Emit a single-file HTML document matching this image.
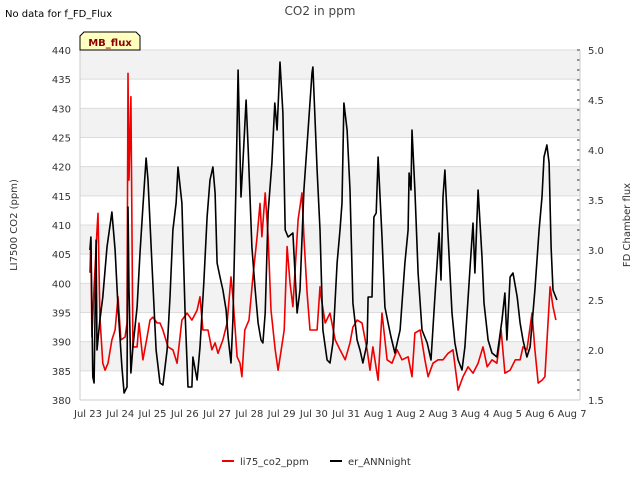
<!DOCTYPE html>
<html><head><meta charset="utf-8"><style>
body{margin:0;background:#fff;}
svg{font-family:"DejaVu Sans","Liberation Sans",sans-serif;}
</style></head><body>
<svg id="chart" width="640" height="480" xmlns="http://www.w3.org/2000/svg">
<text x="5" y="17" font-size="10" fill="#000">No data for f_FD_Flux</text>
<text x="320" y="15" font-size="12" fill="#444" text-anchor="middle">CO2 in ppm</text>
<g id="bands"></g>
<g id="grid"></g>
<g id="series"></g>
<g id="axes"></g>
<g>
<path d="M80,50 L80,36 L84,32 L136,32 L140,36 L140,50 Z" fill="#ffffc0" stroke="#000" stroke-width="1"/>
<text x="110" y="46" font-size="10" font-weight="bold" fill="#8b0000" text-anchor="middle">MB_flux</text>
</g>
<text transform="translate(17,225) rotate(-90)" font-size="10" fill="#333" text-anchor="middle">LI7500 CO2 (ppm)</text>
<text transform="translate(630,225) rotate(-90)" font-size="10" fill="#333" text-anchor="middle">FD Chamber flux</text>
<g>
<line x1="222" y1="461" x2="234" y2="461" stroke="#e00" stroke-width="2"/>
<text x="240" y="465" font-size="10" fill="#333">li75_co2_ppm</text>
<line x1="330" y1="461" x2="342" y2="461" stroke="#000" stroke-width="2"/>
<text x="348" y="465" font-size="10" fill="#333">er_ANNnight</text>
</g>
</svg>
<script>
const xTickLabels=["Jul 23","Jul 24","Jul 25","Jul 26","Jul 27","Jul 28","Jul 29","Jul 30","Jul 31","Aug 1","Aug 2","Aug 3","Aug 4","Aug 5","Aug 6","Aug 7"];
const yTicks=[380,385,390,395,400,405,410,415,420,425,430,435,440];
const y2Ticks=[1.5,2.0,2.5,3.0,3.5,4.0,4.5,5.0];
const blackT=[0.06,0.09,0.15,0.19,0.25,0.28,0.37,0.46,0.59,0.74,0.84,0.93,1.05,1.12,1.21,1.24,1.27,1.33,1.39,1.52,1.61,1.70,1.80,1.86,1.98,2.11,2.23,2.32,2.45,2.54,2.63,2.73,2.79,2.91,3.01,3.10,3.22,3.25,3.38,3.47,3.59,3.69,3.78,3.87,3.94,4.00,4.09,4.18,4.28,4.34,4.43,4.49,4.59,4.65,4.74,4.80,4.90,4.96,5.08,5.18,5.27,5.36,5.42,5.49,5.58,5.70,5.79,5.86,5.95,6.04,6.11,6.20,6.35,6.48,6.57,6.69,6.82,6.94,6.97,7.10,7.19,7.28,7.41,7.50,7.59,7.72,7.81,7.87,7.93,8.03,8.12,8.21,8.34,8.43,8.52,8.65,8.68,8.80,8.86,8.93,8.99,9.11,9.20,9.30,9.39,9.51,9.67,9.82,9.92,9.95,10.01,10.04,10.13,10.23,10.35,10.51,10.63,10.75,10.88,10.94,11.00,11.06,11.16,11.28,11.37,11.47,11.59,11.68,11.84,11.93,11.99,12.06,12.09,12.21,12.27,12.40,12.52,12.67,12.83,12.92,12.98,13.08,13.17,13.30,13.39,13.48,13.60,13.70,13.85,13.98,14.07,14.13,14.22,14.29,14.35,14.41,14.53];
const blackV=[3.0,3.13,1.73,1.67,3.1,2.0,2.3,2.53,3.03,3.38,3.0,2.43,1.83,1.57,1.63,3.43,2.6,1.77,2.03,2.43,2.97,3.43,3.92,3.7,2.87,2.0,1.67,1.65,2.0,2.53,3.2,3.47,3.83,3.47,2.37,1.63,1.63,1.93,1.7,2.03,2.67,3.33,3.7,3.83,3.57,2.87,2.73,2.6,2.4,2.13,1.87,2.3,3.7,4.8,3.53,3.87,4.5,4.03,3.03,2.6,2.27,2.1,2.07,2.37,3.37,3.87,4.47,4.2,4.88,4.37,3.2,3.13,3.17,2.37,2.6,3.6,4.2,4.77,4.83,3.8,3.2,2.2,1.9,1.87,2.07,2.87,3.2,3.47,4.47,4.2,3.6,2.47,2.1,2.0,1.87,2.07,2.53,2.53,3.33,3.37,3.93,3.13,2.43,2.27,2.13,1.97,2.2,2.87,3.2,3.77,3.6,4.2,3.6,2.77,2.2,2.07,1.9,2.53,3.17,2.7,3.53,3.8,3.13,2.37,2.07,1.9,1.8,2.03,2.83,3.27,2.77,3.37,3.6,2.93,2.47,2.1,1.97,1.93,2.3,2.57,2.1,2.73,2.77,2.53,2.27,2.1,1.93,2.03,2.6,3.2,3.53,3.93,4.05,3.87,3.03,2.6,2.5];
const redT=[0.06,0.09,0.12,0.19,0.28,0.31,0.37,0.46,0.53,0.62,0.74,0.84,0.93,1.02,1.15,1.21,1.24,1.27,1.33,1.39,1.52,1.58,1.70,1.83,1.92,2.01,2.14,2.23,2.32,2.48,2.63,2.76,2.91,3.07,3.22,3.38,3.47,3.56,3.72,3.84,3.94,4.03,4.18,4.31,4.43,4.49,4.62,4.71,4.77,4.86,4.99,5.11,5.24,5.33,5.39,5.49,5.58,5.67,5.80,5.89,6.02,6.08,6.17,6.26,6.35,6.51,6.63,6.69,6.79,6.88,7.10,7.19,7.19,7.35,7.50,7.66,7.81,7.97,8.12,8.21,8.34,8.49,8.65,8.74,8.83,8.99,9.11,9.27,9.42,9.58,9.73,9.92,10.04,10.13,10.29,10.44,10.54,10.69,10.85,11.00,11.16,11.31,11.47,11.62,11.78,11.93,12.09,12.24,12.37,12.52,12.67,12.80,12.92,13.08,13.24,13.39,13.48,13.60,13.76,13.85,13.95,14.07,14.16,14.32,14.41,14.50];
const redV=[401.8,407.4,390.8,399.4,409.1,412,394.2,386.3,385.1,386.3,390.3,392,397.7,390.3,390.8,393.2,436,417.7,432,389.1,389.1,393.2,386.9,390.8,393.7,394.2,393.2,393.2,392,389.1,388.6,386.3,393.7,394.9,393.7,395.4,397.7,392,392,388.6,389.8,388,390.3,393.2,401.1,397.7,387.4,386.3,384,392,393.7,401.1,408,413.7,408,415.5,408,395.4,388.6,385.1,389.8,392,406.3,400.1,396,410.9,415.5,408,398.3,392,392,399.4,398.9,393.2,394.9,390.3,388.6,386.9,389.8,392.5,393.7,393.2,388.6,385.1,389.1,383.4,394.9,386.9,386.3,388.6,386.9,387.4,384,391.5,392,386.9,384,386.3,386.9,386.9,388,388.6,381.7,384,385.7,384.6,386.3,389.1,385.7,386.9,386.3,392,384.6,385.1,386.9,386.9,389.1,388.6,394.9,388.6,382.9,383.4,384,399.4,396,393.7];

const NS="http://www.w3.org/2000/svg";
const L=80,R=580,T=50,B=400;
const xDay=t=>88+t*32.27;
const yL=v=>B-(v-380)/60*(B-T);
const yR=v=>B-(v-1.5)/3.5*(B-T);
function mk(tag,attrs,parent){const e=document.createElementNS(NS,tag);for(const k in attrs)e.setAttribute(k,attrs[k]);parent.appendChild(e);return e;}
const bands=document.getElementById('bands'),grid=document.getElementById('grid'),axes=document.getElementById('axes'),series=document.getElementById('series');
mk('rect',{x:L,y:T,width:R-L,height:B-T,fill:'#fff'},bands);
for(let i=0;i<yTicks.length-1;i++){
  if(i%2===1){
    const r=mk('rect',{x:L,y:yL(yTicks[i+1]),width:R-L,height:yL(yTicks[i])-yL(yTicks[i+1]),fill:'#f2f2f2'},bands);
    
    
  }
}
yTicks.forEach(v=>{
  const g=mk('line',{x1:L,x2:R,y1:yL(v),y2:yL(v),stroke:'#dcdcdc','stroke-width':1},grid);
  
  
  const t=mk('text',{x:L-9,y:yL(v)+4,'font-size':10,fill:'#333','text-anchor':'end'},axes);
  t.textContent=v;
  
  
});
y2Ticks.forEach(v=>{
  const t=mk('text',{x:R+8,y:yR(v)+4,'font-size':10,fill:'#333'},axes);
  t.textContent=v.toFixed(1);
  
  
});
for(let v=1.6;v<5.0;v+=0.1){
  mk('line',{x1:R-3,x2:R,y1:yR(v),y2:yR(v),stroke:'#333','stroke-width':1},axes);
}
mk('line',{x1:L,x2:L,y1:T,y2:B,stroke:'#ccc'},axes);
mk('line',{x1:R,x2:R,y1:T,y2:B,stroke:'#ccc'},axes);
mk('line',{x1:L,x2:R,y1:B,y2:B,stroke:'#ccc'},axes);
xTickLabels.forEach((s,i)=>{
  const t=mk('text',{x:xDay(i),y:B+17,'font-size':10,fill:'#333','text-anchor':'middle'},axes);
  t.textContent=s;
  
  
});
function path(ts,vs,yf){return ts.map((t,i)=>(i?'L':'M')+xDay(t).toFixed(1)+','+yf(vs[i]).toFixed(1)).join(' ');}
const red=mk('path',{d:path(redT,redV,yL),fill:'none',stroke:'#e00','stroke-width':1.6,'stroke-linejoin':'round'},series);


const blk=mk('path',{d:path(blackT,blackV,yR),fill:'none',stroke:'#000','stroke-width':1.6,'stroke-linejoin':'round'},series);


</script>
</body></html>
